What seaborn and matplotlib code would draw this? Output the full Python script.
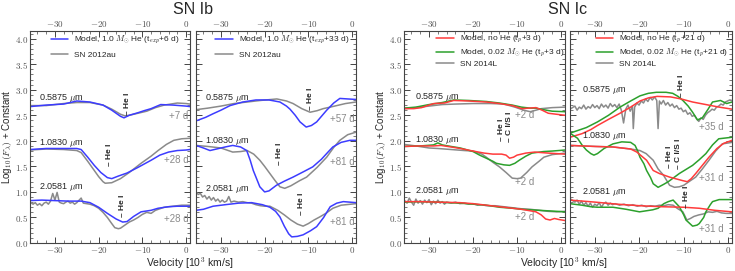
import numpy as np
import matplotlib
matplotlib.use("Agg")
import matplotlib.pyplot as plt
import seaborn as sns
from matplotlib.ticker import MultipleLocator, FuncFormatter


# Spectra: (velocity [10^3 km/s], log10 F + constant)

# ---- SN Ib, model t_exp+6 d vs SN 2012au ----
ib6_0587_model = [(-35.7, 2.67), (-32, 2.70), (-28, 2.72), (-25, 2.78), (-22, 2.76), (-19, 2.70),
                  (-17, 2.60), (-15, 2.48), (-14.2, 2.45), (-13, 2.50), (-11, 2.55), (-9.6, 2.59),
                  (-8, 2.63), (-5.8, 2.71), (-3, 2.70), (0, 2.68), (0.9, 2.67)]
ib6_0587_obs = [(-35.7, 2.69), (-32, 2.69), (-28, 2.73), (-25, 2.75), (-22, 2.75), (-19, 2.70),
                (-17, 2.62), (-15, 2.52), (-14, 2.49), (-13, 2.50), (-11, 2.54), (-9, 2.58),
                (-7, 2.65), (-5, 2.70), (-2, 2.74), (0, 2.73), (0.9, 2.72)]
ib6_1083_model = [(-35.7, 1.83), (-32, 1.85), (-28, 1.85), (-25, 1.85), (-24, 1.83), (-22.5, 1.68),
                  (-21, 1.52), (-19.5, 1.38), (-18, 1.28), (-17, 1.26), (-15.5, 1.31), (-13.5, 1.37),
                  (-11, 1.48), (-8, 1.62), (-6, 1.72), (-4, 1.78), (-2, 1.81), (0, 1.82), (0.9, 1.83)]
ib6_1083_obs = [(-35.7, 1.82), (-32, 1.84), (-28, 1.83), (-25, 1.81), (-24, 1.77), (-22.5, 1.60),
                (-21, 1.42), (-20, 1.30), (-19, 1.20), (-18.5, 1.17), (-17, 1.18), (-15, 1.26),
                (-13, 1.38), (-10.3, 1.56), (-8, 1.70), (-6.4, 1.81), (-4.5, 1.93), (-2.8, 2.01),
                (-1, 2.04), (0.9, 2.05)]
ib6_2058_model = [(-35.7, 0.83), (-33, 0.84), (-30, 0.83), (-27, 0.82), (-24, 0.82), (-22, 0.79),
                  (-20, 0.70), (-18, 0.58), (-16, 0.47), (-14.5, 0.41), (-13.5, 0.42), (-12, 0.52),
                  (-10.3, 0.61), (-8, 0.64), (-6.4, 0.68), (-4, 0.71), (-2, 0.72), (0.9, 0.72)]
ib6_2058_obs = [(-35.7, 0.80), (-35, 0.76), (-34.5, 0.79), (-34, 0.74), (-33.5, 0.77), (-33, 0.73),
                (-32.5, 0.78), (-32, 0.80), (-31.5, 0.76), (-31, 0.82), (-30.5, 0.97), (-30, 0.84),
                (-29.5, 0.99), (-29, 0.80), (-28.5, 0.78), (-28, 0.77), (-27.5, 0.80), (-27, 0.82),
                (-26.5, 0.78), (-26, 0.80), (-25.5, 0.76), (-25, 0.79), (-24, 0.88), (-23.5, 0.78),
                (-22, 0.76), (-21, 0.73), (-20, 0.68), (-19, 0.60), (-18, 0.50), (-17, 0.38),
                (-16.3, 0.30), (-15.5, 0.28), (-15, 0.29), (-14, 0.35), (-13, 0.41), (-12, 0.45),
                (-11, 0.50), (-10, 0.56), (-9, 0.60), (-8, 0.58), (-7, 0.64), (-6, 0.67), (-5, 0.70),
                (-4, 0.71), (-3, 0.72), (-2, 0.73), (-1, 0.74), (0.9, 0.74)]

# ---- SN Ib, model t_exp+33 d vs SN 2012au ----
ib33_0587_model = [(-35.7, 2.39), (-33.5, 2.46), (-31.8, 2.53), (-30, 2.60), (-27.9, 2.69),
                   (-25, 2.76), (-22, 2.80), (-19, 2.80), (-16.5, 2.76), (-15, 2.68), (-14.2, 2.62),
                   (-13, 2.50), (-11.9, 2.37), (-10.5, 2.27), (-9.3, 2.30), (-8.1, 2.37), (-7, 2.48),
                   (-5.8, 2.60), (-4.2, 2.74), (-2.8, 2.83), (-1, 2.82), (0.9, 2.81)]
ib33_0587_obs = [(-35.7, 2.61), (-33, 2.64), (-30, 2.68), (-27, 2.73), (-24, 2.76), (-21, 2.79),
                 (-17.2, 2.82), (-15, 2.78), (-13.5, 2.73), (-11.5, 2.63), (-9.6, 2.56), (-8, 2.59),
                 (-6.6, 2.63), (-5, 2.66), (-3.5, 2.69), (-1.5, 2.73), (0.9, 2.76)]
ib33_1083_model = [(-35.7, 1.91), (-34, 1.86), (-32.5, 1.81), (-31, 1.84), (-29, 1.88), (-27.3, 1.91),
                   (-25.5, 1.88), (-24.1, 1.81), (-23.3, 1.62), (-22.6, 1.42), (-21.8, 1.25),
                   (-21.1, 1.10), (-20, 1.00), (-19, 1.02), (-17.3, 1.13), (-15.5, 1.21),
                   (-13.5, 1.29), (-11, 1.40), (-9, 1.49), (-7, 1.64), (-5.5, 1.78), (-4.4, 1.88),
                   (-2.5, 1.97), (-0.5, 2.01), (0.9, 2.01)]
ib33_1083_obs = [(-35.7, 1.91), (-33, 1.89), (-30, 1.86), (-27.3, 1.78), (-25.5, 1.79), (-24, 1.81),
                 (-22.5, 1.74), (-21.1, 1.62), (-20, 1.50), (-18.8, 1.36), (-17.6, 1.22),
                 (-16.5, 1.10), (-15.4, 1.07), (-14, 1.12), (-12, 1.22), (-10.4, 1.29), (-8, 1.48),
                 (-5.8, 1.68), (-4.2, 1.87), (-2.8, 2.01), (-1, 2.12), (0.9, 2.17)]
ib33_2058_model = [(-35.7, 0.64), (-34, 0.66), (-31.8, 0.72), (-29, 0.75), (-26, 0.78), (-23, 0.79),
                   (-20.5, 0.75), (-18.8, 0.70), (-17.5, 0.62), (-16.5, 0.51), (-15.5, 0.33),
                   (-14.5, 0.18), (-13.8, 0.12), (-12.5, 0.13), (-11.2, 0.16), (-9.5, 0.24),
                   (-8.1, 0.32), (-6.5, 0.50), (-5, 0.71), (-3.5, 0.78), (-2, 0.81), (0.9, 0.79)]
ib33_2058_obs = [(-35.7, 1.00), (-35.2, 0.95), (-34.7, 0.97), (-34.2, 0.90), (-33.7, 0.93),
                 (-33.2, 0.86), (-32.7, 0.91), (-32.2, 0.84), (-31.7, 0.89), (-31.2, 0.82),
                 (-30.7, 0.86), (-30.2, 0.80), (-29.7, 0.84), (-29.2, 0.80), (-28.7, 0.82),
                 (-28.2, 0.91), (-27.7, 0.80), (-27, 0.82), (-26, 0.80), (-25, 0.81), (-24, 0.79),
                 (-23, 0.78), (-22, 0.75), (-21, 0.73), (-20, 0.72), (-18.8, 0.72), (-17, 0.64),
                 (-15.5, 0.55), (-14, 0.45), (-12.5, 0.37), (-11.2, 0.33), (-10, 0.38),
                 (-8.7, 0.45), (-7.4, 0.51), (-6, 0.58), (-4.4, 0.68), (-2.5, 0.74), (0.9, 0.77)]

# ---- SN Ic, models t_p+3 d vs SN 2014L ----
ic3_0587_nohe = [(-35.7, 2.63), (-33.5, 2.63), (-31.7, 2.65), (-30, 2.70), (-28.9, 2.73),
                 (-26.5, 2.74), (-24.4, 2.79), (-21, 2.78), (-17, 2.76), (-14, 2.73), (-11.1, 2.69),
                 (-8.9, 2.63), (-7.3, 2.64), (-5.7, 2.65), (-4.3, 2.60), (-2.9, 2.54), (-1, 2.52),
                 (0.9, 2.50)]
ic3_0587_he = [(-35.7, 2.64), (-33, 2.66), (-30, 2.71), (-27, 2.75), (-24.4, 2.80), (-21, 2.79),
               (-17, 2.77), (-14, 2.74), (-11.1, 2.70), (-9, 2.66), (-7, 2.64), (-5.7, 2.64),
               (-4, 2.61), (-2, 2.58), (0.9, 2.57)]
ic3_0587_obs = [(-35.7, 2.63), (-33, 2.65), (-30, 2.68), (-27, 2.71), (-24, 2.72), (-20, 2.73),
                (-16, 2.73), (-13, 2.72), (-10.5, 2.66), (-8.5, 2.60), (-7, 2.57), (-5.7, 2.60),
                (-4.5, 2.63), (-2, 2.65), (0.9, 2.66)]
ic3_1083_nohe = [(-35.7, 1.89), (-32, 1.90), (-29, 1.90), (-27.3, 1.91), (-25, 1.88), (-22.9, 1.85),
                 (-20, 1.80), (-17.5, 1.76), (-15.5, 1.74), (-13.5, 1.74), (-12.5, 1.72),
                 (-11.7, 1.66), (-10.8, 1.68), (-10, 1.72), (-8, 1.76), (-6, 1.78), (-2.9, 1.76),
                 (0.9, 1.74)]
ic3_1083_he = [(-35.7, 1.89), (-32, 1.90), (-29, 1.92), (-28, 1.96), (-27, 1.92), (-25, 1.89),
               (-22.9, 1.86), (-20, 1.79), (-18.5, 1.72), (-17, 1.66), (-15.5, 1.60),
               (-14.7, 1.56), (-13, 1.53), (-11.7, 1.52), (-10.5, 1.56), (-9.5, 1.62), (-8, 1.70),
               (-6.6, 1.76), (-4, 1.79), (-2, 1.80), (0.9, 1.82)]
ic3_1083_obs = [(-35.7, 1.93), (-33, 1.90), (-30, 1.86), (-28, 1.85), (-25, 1.83), (-22, 1.81),
                (-20, 1.80), (-18, 1.74), (-17, 1.68), (-15.5, 1.58), (-14, 1.49), (-12.5, 1.38),
                (-11.1, 1.27), (-10, 1.26), (-9.2, 1.27), (-7.8, 1.38), (-6.6, 1.49), (-5, 1.60),
                (-3.9, 1.68), (-2, 1.73), (0.9, 1.76)]
ic3_2058_nohe = [(-35.7, 0.81), (-32, 0.81), (-28, 0.80), (-23, 0.79), (-20, 0.77), (-17, 0.74),
                 (-14, 0.71), (-11, 0.68), (-9, 0.66), (-7, 0.63), (-5.7, 0.61), (-4.5, 0.55),
                 (-3.5, 0.47), (-2.5, 0.45), (-1.5, 0.48), (-0.5, 0.46), (0.9, 0.44)]
ic3_2058_he = [(-35.7, 0.80), (-32, 0.81), (-28, 0.80), (-23, 0.78), (-20, 0.76), (-17, 0.74),
               (-14, 0.70), (-11, 0.68), (-9, 0.66), (-7, 0.65), (-5, 0.64), (-3, 0.63),
               (-1, 0.62), (0.9, 0.61)]
ic3_2058_obs = [(-35.7, 0.84), (-35, 0.78), (-34.5, 0.88), (-34, 0.80), (-33.5, 0.74), (-33, 0.86),
                (-32.5, 0.78), (-32, 0.83), (-31.5, 0.76), (-31, 0.84), (-30.5, 0.79), (-30, 0.85),
                (-29.5, 0.75), (-29, 0.82), (-28.5, 0.77), (-28, 0.84), (-27.5, 0.78), (-27, 0.81),
                (-26.5, 0.76), (-26, 0.80), (-25, 0.78), (-24, 0.80), (-23, 0.77), (-22, 0.78),
                (-21, 0.76), (-20, 0.77), (-19, 0.74), (-18, 0.75), (-17, 0.73), (-15, 0.73),
                (-13, 0.71), (-11, 0.69), (-9, 0.67), (-7, 0.66), (-5, 0.64), (-3, 0.62),
                (-1, 0.61), (0.9, 0.62)]

# ---- SN Ic, models t_p+21 d vs SN 2014L ----
ic21_0587_nohe = [(-35.7, 2.07), (-33, 2.14), (-31, 2.22), (-29.5, 2.30), (-27, 2.42), (-24.4, 2.54),
                  (-22, 2.66), (-19.9, 2.78), (-18, 2.84), (-16, 2.87), (-13, 2.86), (-10.6, 2.82),
                  (-8, 2.76), (-5, 2.71), (-2, 2.66), (0.9, 2.62)]
ic21_0587_he = [(-35.7, 2.15), (-32, 2.26), (-29.5, 2.37), (-27, 2.50), (-24.4, 2.66), (-22, 2.78),
                (-19.9, 2.88), (-18, 2.93), (-16.2, 2.95), (-14, 2.95), (-12.5, 2.93),
                (-11.3, 2.87), (-10.2, 2.79), (-9, 2.68), (-8, 2.56), (-6.9, 2.41), (-5.8, 2.45),
                (-4.5, 2.62), (-3.5, 2.76), (-1.7, 2.79), (-0.3, 2.73), (0.9, 2.76)]
ic21_0587_obs = [(-35.7, 2.62), (-34.6, 2.68), (-34.1, 2.60), (-33.6, 2.66), (-33.1, 2.63),
                 (-32.6, 2.70), (-32.1, 2.62), (-31.6, 2.67), (-31.1, 2.64), (-30.6, 2.71),
                 (-30.1, 2.65), (-29.6, 2.69), (-29.1, 2.63), (-28.6, 2.72), (-28.1, 2.66),
                 (-27.6, 2.70), (-27.1, 2.64), (-26.6, 2.73), (-26.1, 2.67), (-25.6, 2.71),
                 (-25.1, 2.65), (-24.6, 2.72), (-24.1, 2.60), (-23.6, 2.35), (-23.1, 2.62),
                 (-22.6, 2.70), (-22.1, 2.58), (-21.6, 2.68), (-21.4, 2.24), (-21.1, 2.66),
                 (-20.6, 2.74), (-20.1, 2.70), (-19.6, 2.78), (-19.1, 2.74), (-18.6, 2.82),
                 (-18.1, 2.77), (-17.6, 2.85), (-17.1, 2.80), (-16.6, 2.86), (-16.1, 2.79),
                 (-15.8, 2.24), (-15.5, 2.78), (-15.1, 2.72), (-14.6, 2.79), (-14.1, 2.70),
                 (-13.6, 2.75), (-13.1, 2.68), (-12.6, 2.72), (-12.1, 2.65), (-11.6, 2.69),
                 (-11.1, 2.62), (-10.6, 2.64), (-10.1, 2.57), (-9.6, 2.60), (-9.1, 2.52),
                 (-8.6, 2.55), (-8.1, 2.48), (-7.6, 2.50), (-7.1, 2.43), (-6.6, 2.38),
                 (-6.1, 2.45), (-5.6, 2.42), (-5.1, 2.50), (-4.6, 2.55), (-4.1, 2.58),
                 (-3.6, 2.62), (-3.1, 2.60), (-2.6, 2.66), (-2.1, 2.68), (-1.6, 2.72),
                 (-1.1, 2.70), (-0.6, 2.76), (-0.1, 2.78), (0.4, 2.80), (0.9, 2.79)]
ic21_1083_nohe = [(-35.7, 1.91), (-30, 1.89), (-26, 1.88), (-22, 1.84), (-20.6, 1.78), (-19.5, 1.70),
                  (-18.4, 1.62), (-17.5, 1.50), (-16.9, 1.42), (-15.5, 1.36), (-13.2, 1.29),
                  (-11.5, 1.25), (-10.2, 1.22), (-9.2, 1.20), (-8.3, 1.26), (-7.3, 1.36),
                  (-5.8, 1.52), (-4.3, 1.68), (-2.5, 1.85), (-1, 1.95), (0.9, 2.01)]
ic21_1083_he = [(-35.7, 2.15), (-34, 2.05), (-33, 1.92), (-32, 1.82), (-31, 1.75), (-30.3, 1.72),
                (-29.5, 1.75), (-28, 1.85), (-26, 1.94), (-24, 1.98), (-22, 1.97), (-21, 1.91),
                (-20.4, 1.80), (-19.9, 1.68), (-19, 1.55), (-18.4, 1.42), (-17.5, 1.28),
                (-16.9, 1.16), (-15.8, 1.09), (-14.5, 1.15), (-13.5, 1.20), (-11, 1.36),
                (-8, 1.52), (-6.5, 1.63), (-5, 1.75), (-3.5, 1.92), (-2.1, 2.04), (0.9, 2.07)]
ic21_1083_obs = [(-35.7, 1.91), (-30, 1.89), (-26, 1.88), (-22, 1.84), (-19.9, 1.81), (-18.5, 1.75),
                 (-16.9, 1.62), (-15.8, 1.45), (-14.6, 1.33), (-13.2, 1.13), (-12.1, 1.09),
                 (-11, 1.10), (-10, 1.13), (-8.5, 1.22), (-7.3, 1.29), (-5.8, 1.45), (-4.3, 1.62),
                 (-2.8, 1.80), (-1.3, 1.94), (0.9, 1.97)]
ic21_2058_nohe = [(-35.7, 0.84), (-30, 0.80), (-25, 0.76), (-20, 0.73), (-15, 0.71), (-10, 0.70),
                  (-6.5, 0.68), (-3, 0.64), (0.9, 0.61)]
ic21_2058_he = [(-35.7, 0.77), (-33, 0.74), (-31, 0.71), (-29.5, 0.70), (-26, 0.70), (-23, 0.66),
                (-20, 0.61), (-17, 0.65), (-15.8, 0.68), (-14.5, 0.77), (-13.5, 0.81),
                (-12.4, 0.84), (-11, 0.71), (-10, 0.55), (-9.5, 0.45), (-8, 0.33), (-7, 0.35),
                (-6.5, 0.38), (-5.5, 0.50), (-5, 0.61), (-4, 0.75), (-3.5, 0.81), (-2, 0.85),
                (0.9, 0.85)]
ic21_2058_obs = [(-35.7, 0.87), (-34.6, 0.80), (-34.1, 0.84), (-33.6, 0.76), (-33.1, 0.82),
                 (-32.6, 0.74), (-32.1, 0.79), (-31.6, 0.72), (-31.1, 0.78), (-30.6, 0.70),
                 (-30.1, 0.76), (-29.6, 0.73), (-29.1, 0.79), (-28.6, 0.70), (-28.1, 0.77),
                 (-27.6, 0.80), (-27.1, 0.74), (-26.6, 0.78), (-26.1, 0.75), (-25.5, 0.77),
                 (-24.5, 0.74), (-23.5, 0.76), (-22.5, 0.73), (-21.5, 0.75), (-20.5, 0.72),
                 (-19.5, 0.74), (-18.5, 0.71), (-17.5, 0.73), (-16.5, 0.72), (-15.5, 0.74),
                 (-14.5, 0.73), (-13.5, 0.75), (-12.4, 0.74), (-11.5, 0.68), (-10.2, 0.61),
                 (-9.3, 0.45), (-8.5, 0.48), (-7.7, 0.52), (-6.6, 0.55), (-5.5, 0.57),
                 (-4.5, 0.61), (-3.5, 0.60), (-2.5, 0.62), (-1.5, 0.59), (-0.5, 0.58), (0.9, 0.58)]

line_names = ["0.5875 $\\mu$m", "1.0830 $\\mu$m", "2.0581 $\\mu$m"]
ib6_epochs = ["+7 d", "+28 d", "+28 d"]
ib33_epochs = ["+57 d", "+81 d", "+81 d"]
ic3_epochs = ["+2 d", "+2 d", "+2 d"]
ic21_epochs = ["+35 d", "+31 d", "+31 d"]


BLUE = "#3c3cff"
RED = "#ff3b3b"
GREEN = "#2ca02c"
GRAY = "#8a8a8a"

sns.set_style("ticks")
plt.rcParams["font.family"] = ["Liberation Sans Narrow", "Liberation Sans", "DejaVu Sans"]
plt.rcParams["mathtext.fontset"] = "cm"


def draw(ax, pairs, color, lw=1.1):
    v, f = np.array(pairs).T
    sns.lineplot(x=v, y=f, ax=ax, color=color, lw=lw, sort=False, estimator=None, legend=False)
    return ax.lines[-1]


def style_axes(ax, show_y):
    ax.set_xlim(-35.7, 0.9)
    ax.set_ylim(0, 4.15)
    ax.xaxis.set_major_locator(MultipleLocator(10))
    ax.xaxis.set_minor_locator(MultipleLocator(2))
    ax.yaxis.set_major_locator(MultipleLocator(0.5))
    ax.yaxis.set_minor_locator(MultipleLocator(0.1))
    ax.xaxis.set_major_formatter(FuncFormatter(lambda x, p: "$%d$" % x))
    ax.yaxis.set_major_formatter(FuncFormatter(lambda y, p: "$%.1f$" % y))
    ax.tick_params(which="both", direction="in", top=True, right=True, labeltop=True,
                   labelbottom=True, labelleft=show_y, labelsize=6.5, labelcolor="#555555",
                   color="#444444", pad=1.5)
    ax.tick_params(which="major", length=4, width=0.7)
    ax.tick_params(which="minor", length=2, width=0.5)
    for sp in ax.spines.values():
        sp.set_color("#444444")
        sp.set_linewidth(0.8)
    ax.set_xlabel("")
    ax.set_ylabel("")


def annotate(ax, xlab, ylabs, epochs, xep, yeps):
    for name, y in zip(line_names, ylabs):
        ax.text(xlab, y, name, fontsize=6.5, ha="left", va="center")
    for ep, y in zip(epochs, yeps):
        ax.text(xep, y, ep, fontsize=7, ha="right", va="center", color=GRAY)


def ion(ax, x, y, s="– He I"):
    ax.text(x, y, s, rotation=90, fontsize=6, fontweight="bold", ha="center", va="center")


def legend(ax, handles, labels, x0, spacing):
    ax.legend(handles, labels, loc="upper left", bbox_to_anchor=(x0, 0.985), frameon=False,
              fontsize=6, handlelength=2.1, handletextpad=0.7, labelspacing=spacing,
              borderpad=0, borderaxespad=0)


fig = plt.figure(figsize=(7.35, 2.71), dpi=100)
bot, hgt = 1 - 243 / 271, 212 / 271
ax1 = fig.add_axes([30 / 735, bot, 160 / 735, hgt])
ax2 = fig.add_axes([196 / 735, bot, 160 / 735, hgt])
ax3 = fig.add_axes([404 / 735, bot, 161 / 735, hgt])
ax4 = fig.add_axes([570 / 735, bot, 162 / 735, hgt])

# panel 1
hs = None
for obs, mod in [(ib6_0587_obs, ib6_0587_model), (ib6_1083_obs, ib6_1083_model), (ib6_2058_obs, ib6_2058_model)]:
    lo = draw(ax1, obs, GRAY)
    lm = draw(ax1, mod, BLUE)
    hs = hs or (lm, lo)
style_axes(ax1, True)
annotate(ax1, -33.7, [2.84, 1.96, 1.09], ib6_epochs, 0.6, [2.49, 1.62, 0.47])
ion(ax1, -13.3, 2.72)
ion(ax1, -17.6, 1.72)
ion(ax1, -14.5, 0.72)
legend(ax1, hs, ["Model, 1.0 $M_{\\odot}$ He (t$_{exp}$+6 d)", "SN 2012au"], 0.13, 0.55)

# panel 2
hs = None
for obs, mod in [(ib33_0587_obs, ib33_0587_model), (ib33_1083_obs, ib33_1083_model), (ib33_2058_obs, ib33_2058_model)]:
    lo = draw(ax2, obs, GRAY)
    lm = draw(ax2, mod, BLUE)
    hs = hs or (lm, lo)
style_axes(ax2, False)
annotate(ax2, -33.7, [2.83, 1.99, 1.06], ib33_epochs, 0.6, [2.42, 1.59, 0.42])
ion(ax2, -9.5, 2.82)
ion(ax2, -16.7, 1.74)
ion(ax2, -11.5, 0.76)
legend(ax2, hs, ["Model, 1.0 $M_{\\odot}$ He (t$_{exp}$+33 d)", "SN 2012au"], 0.12, 0.55)

# panel 3
hs = None
for obs, nohe, he in [(ic3_0587_obs, ic3_0587_nohe, ic3_0587_he),
                      (ic3_1083_obs, ic3_1083_nohe, ic3_1083_he),
                      (ic3_2058_obs, ic3_2058_nohe, ic3_2058_he)]:
    lo = draw(ax3, obs, GRAY)
    lg = draw(ax3, he, GREEN)
    lr = draw(ax3, nohe, RED)
    hs = hs or (lr, lg, lo)
style_axes(ax3, True)
annotate(ax3, -33.3, [2.86, 2.02, 1.02], ic3_epochs, -6.2, [2.50, 1.19, 0.51])
ion(ax3, -13.5, 2.22)
ion(ax3, -11.7, 2.28, "– C I/S I")
legend(ax3, hs, ["Model, no He (t$_p$+3 d)", "Model, 0.02 $M_{\\odot}$ He (t$_p$+3 d)", "SN 2014L"],
       0.2, 0.2)

# panel 4
hs = None
for obs, nohe, he in [(ic21_0587_obs, ic21_0587_nohe, ic21_0587_he),
                      (ic21_1083_obs, ic21_1083_nohe, ic21_1083_he),
                      (ic21_2058_obs, ic21_2058_nohe, ic21_2058_he)]:
    lo = draw(ax4, obs, GRAY)
    lg = draw(ax4, he, GREEN)
    lr = draw(ax4, nohe, RED)
    hs = hs or (lr, lg, lo)
style_axes(ax4, False)
annotate(ax4, -32.9, [3.0, 2.09, 1.0], ic21_epochs, -1.0, [2.28, 1.27, 0.27])
ion(ax4, -10.4, 3.08)
ion(ax4, -13.3, 1.68)
ion(ax4, -11.2, 1.74, "– C I/S I")
ion(ax4, -9.3, 0.9)
legend(ax4, hs, ["Model, no He (t$_p$+21 d)", "Model, 0.02 $M_{\\odot}$ He (t$_p$+21 d)", "SN 2014L"],
       0.16, 0.2)

ylab = "Log$_{10}(F_{\\lambda})$ + Constant"
ax1.set_ylabel(ylab, fontsize=7)
ax1.yaxis.set_label_coords(-0.1, 0.5)
ax3.set_ylabel(ylab, fontsize=7)
ax3.yaxis.set_label_coords(-0.1, 0.5)

xlab = "Velocity [10$^3$ km/s]"
fig.text(190 / 735, 1 - 263.5 / 271, xlab, fontsize=7.5, ha="center", va="center")
fig.text(564 / 735, 1 - 263.5 / 271, xlab, fontsize=7.5, ha="center", va="center")
fig.text(193 / 735, 1 - 9 / 271, "SN Ib", fontsize=11.5, ha="center", va="center")
fig.text(568 / 735, 1 - 9 / 271, "SN Ic", fontsize=11.5, ha="center", va="center")

fig.savefig("out.png", dpi=100)
